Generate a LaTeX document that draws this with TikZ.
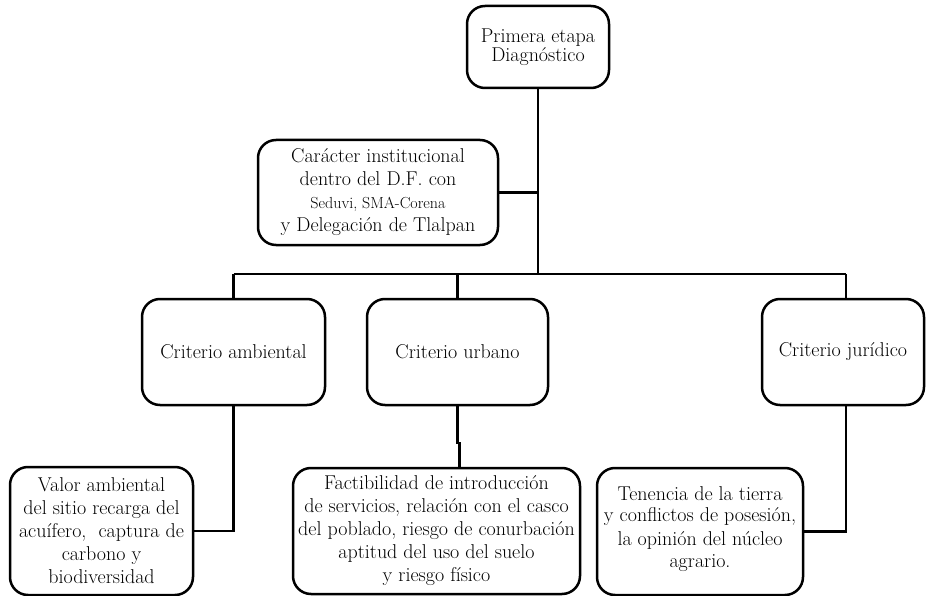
\documentclass[tikz,border=0pt]{standalone}
\usepackage{fontspec}
\begin{document}
\begin{tikzpicture}[x=1pt,y=-1pt,
  box/.style={draw, line width=2.5pt, rounded corners=18pt, align=center, inner sep=0pt,
    font=\fontsize{20}{23}\selectfont},
  conn/.style={line width=2.8pt}]
\useasboundingbox (0,0) rectangle (926,596);
\node[box, minimum width=142pt, minimum height=82pt, font=\fontsize{20}{19.5}\selectfont] (top) at (538,47) {Primera etapa\\Diagnóstico};
\node[box, minimum width=240pt, minimum height=105pt] (car) at (378,192.5) {Carácter institucional\\dentro del D.F. con\\{\fontsize{16}{22}\selectfont Seduvi, SMA-Corena}\\y Delegación de Tlalpan};
\node[box, minimum width=183pt, minimum height=106pt] (amb) at (233.5,352) {Criterio ambiental};
\node[box, minimum width=181pt, minimum height=106pt] (urb) at (457.5,352) {Criterio urbano};
\node[box, minimum width=162pt, minimum height=106pt] (jur) at (843,352) {Criterio jurídico};
\node[box, minimum width=183pt, minimum height=128pt] (valor) at (101.5,531) {Valor ambiental\\del sitio recarga del\\acuífero,\ \ captura de\\carbono y\\biodiversidad};
\node[box, minimum width=287pt, minimum height=126pt] (fact) at (436.5,531) {Factibilidad de introducción\\de servicios, relación con el casco\\del poblado, riesgo de conurbación\\aptitud del uso del suelo\\y riesgo físico};
\node[box, minimum width=206pt, minimum height=127pt] (ten) at (700,531.5) {\raisebox{8pt}{\shortstack{Tenencia de la tierra\\[3pt]y conflictos de posesión,\\[3pt]la opinión del núcleo\\[3pt]agrario.}}};
\coordinate (busL) at (233.5,274);
\coordinate (busM) at (538,274);
\coordinate (busR) at (846,274);
\coordinate (j1) at (457.5,443);
\coordinate (j2) at (459.5,443);
\draw[conn] (top.south) -- (busM);
\draw[conn] (car.east) -- (car.east -| busM);
\draw[conn] (busL) -- (busR);
\draw[conn] (busL) -- (amb.north);
\draw[conn] (urb.north |- busL) -- (urb.north);
\draw[conn] (busR) -- (busR |- jur.north);
\draw[conn] (amb.south) |- (valor.east);
\draw[conn] (urb.south) -- (j1) -- (j2) -- (j2 |- fact.north);
\draw[conn] (busR |- jur.south) |- (ten.east);
\end{tikzpicture}
\end{document}
